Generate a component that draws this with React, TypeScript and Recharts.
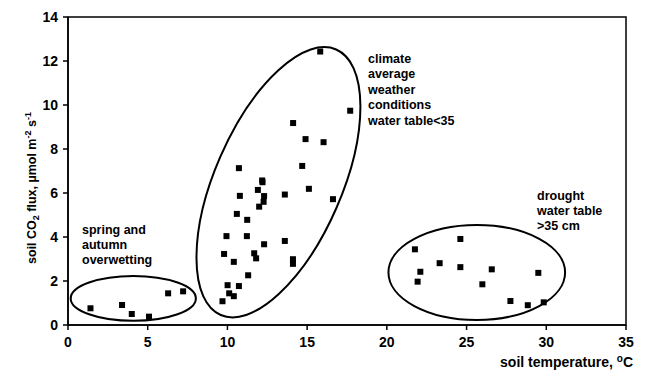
import React from 'react';
import { ScatterChart, Scatter, XAxis, YAxis, ReferenceArea } from 'recharts';

// soil temperature (°C) and soil CO2 flux (µmol m-2 s-1)
const springTemp = [1.41, 3.39, 4.0, 5.08, 6.28, 7.22];
const springFlux = [0.76, 0.91, 0.5, 0.38, 1.44, 1.53];

const climateTemp = [15.82, 17.7, 14.12, 14.9, 16.03, 10.72, 14.69, 12.18, 12.2, 11.91, 15.11, 10.78, 12.3, 13.6, 12.27, 11.99, 16.62, 10.59, 11.24, 9.94, 11.22, 12.3, 13.6, 9.79, 11.68, 11.8, 10.4, 14.11, 14.11, 11.3, 10.01, 10.72, 10.11, 10.4, 9.69];
const climateFlux = [12.43, 9.74, 9.18, 8.45, 8.31, 7.13, 7.23, 6.57, 6.49, 6.14, 6.19, 5.87, 5.86, 5.93, 5.6, 5.38, 5.72, 5.05, 4.78, 4.04, 4.04, 3.67, 3.82, 3.23, 3.26, 3.03, 2.87, 2.99, 2.78, 2.26, 1.81, 1.77, 1.44, 1.31, 1.08];

const droughtTemp = [24.61, 21.76, 23.31, 24.61, 22.1, 26.58, 29.5, 21.93, 25.99, 27.75, 28.84, 29.84];
const droughtFlux = [3.91, 3.44, 2.81, 2.63, 2.42, 2.53, 2.37, 1.97, 1.85, 1.09, 0.9, 1.03];

const xTicks = [0, 5, 10, 15, 20, 25, 30, 35];
const yTicks = [0, 2, 4, 6, 8, 10, 12, 14];

// group ellipses (data-space bounding box of the unrotated ellipse + rotation)
const groupEllipses = [
  { x1: 0.17, x2: 8.02, y1: 0.19, y2: 2.23, angle: 0 },
  { x1: 9.22, x2: 17.18, y1: -0.09, y2: 13.07, angle: 23.5 },
  { x1: 20.1, x2: 31.18, y1: 0.23, y2: 4.55, angle: 0 },
];

const toPoints = (xs: number[], ys: number[]) => xs.map((x, i) => ({ x, y: ys[i] }));
const allPoints = [
  ...toPoints(springTemp, springFlux),
  ...toPoints(climateTemp, climateFlux),
  ...toPoints(droughtTemp, droughtFlux),
];

const FONT = '"Liberation Sans", Arial, sans-serif';

const Square = (p: any) => (
  <rect x={p.cx - 3} y={p.cy - 3} width={6} height={6} fill="#000" />
);

const makeEllipse = (angle: number) => (p: any) => {
  const cx = p.x + p.width / 2;
  const cy = p.y + p.height / 2;
  return (
    <ellipse
      cx={cx}
      cy={cy}
      rx={Math.abs(p.width) / 2}
      ry={Math.abs(p.height) / 2}
      fill="none"
      stroke="#000"
      strokeWidth={2}
      transform={`rotate(${angle} ${cx} ${cy})`}
    />
  );
};

const Frame = (p: any) => (
  <rect x={p.x} y={p.y} width={p.width} height={p.height} fill="none" stroke="#000" strokeWidth={1.5} />
);

const annStyle = { fontFamily: FONT, fontSize: 12.5, fontWeight: 700, fill: '#000' } as const;

export default function App() {
  return (
    <div style={{ position: 'absolute', left: 0, top: 0, background: '#fff' }}>
      <ScatterChart
        width={645}
        height={379}
        margin={{ top: 17, right: 19, bottom: 14, left: 8 }}
      >
        <XAxis
          type="number"
          dataKey="x"
          domain={[0, 35]}
          ticks={xTicks}
          allowDataOverflow
          height={40}
          stroke="#000"
          strokeWidth={1.5}
          tickSize={5}
          tickMargin={7}
          tick={{ fill: '#000', fontFamily: FONT, fontSize: 14, fontWeight: 700 }}
        />
        <YAxis
          type="number"
          dataKey="y"
          domain={[0, 14]}
          ticks={yTicks}
          allowDataOverflow
          width={60}
          stroke="#000"
          strokeWidth={1.5}
          tickSize={5}
          tickMargin={5}
          tick={{ fill: '#000', fontFamily: FONT, fontSize: 14, fontWeight: 700 }}
        />
        <ReferenceArea x1={0} x2={35} y1={0} y2={14} ifOverflow="visible" shape={Frame} />
        {groupEllipses.map((e, i) => (
          <ReferenceArea
            key={i}
            x1={e.x1}
            x2={e.x2}
            y1={e.y1}
            y2={e.y2}
            ifOverflow="visible"
            shape={makeEllipse(e.angle)}
          />
        ))}
        <Scatter data={allPoints} shape={Square} isAnimationActive={false} />
        <g>
          <text {...annStyle}>
            <tspan x={82} y={233.6}>spring and</tspan>
            <tspan x={82} y={249}>autumn</tspan>
            <tspan x={82} y={264.4}>overwetting</tspan>
          </text>
          <text {...annStyle}>
            <tspan x={368} y={63}>climate</tspan>
            <tspan x={368} y={78.4}>average</tspan>
            <tspan x={368} y={93.8}>weather</tspan>
            <tspan x={368} y={109.2}>conditions</tspan>
            <tspan x={368} y={124.6}>water table&lt;35</tspan>
          </text>
          <text {...annStyle}>
            <tspan x={537} y={199.6}>drought</tspan>
            <tspan x={537} y={215}>water table</tspan>
            <tspan x={537} y={230.4}>&gt;35 cm</tspan>
          </text>
          <text
            transform="translate(36 188) rotate(-90)"
            textAnchor="middle"
            {...annStyle}
          >
            soil CO<tspan fontSize={9} dy={3}>2</tspan>
            <tspan dy={-3}> flux, µmol m</tspan>
            <tspan fontSize={9} dy={-5}>-2</tspan>
            <tspan dy={5}> s</tspan>
            <tspan fontSize={9} dy={-5}>-1</tspan>
          </text>
          <text x={633} y={367} textAnchor="end" {...annStyle} fontSize={14}>
            soil temperature, <tspan fontSize={10} dy={-5}>o</tspan>
            <tspan dy={5}>C</tspan>
          </text>
        </g>
      </ScatterChart>
    </div>
  );
}
